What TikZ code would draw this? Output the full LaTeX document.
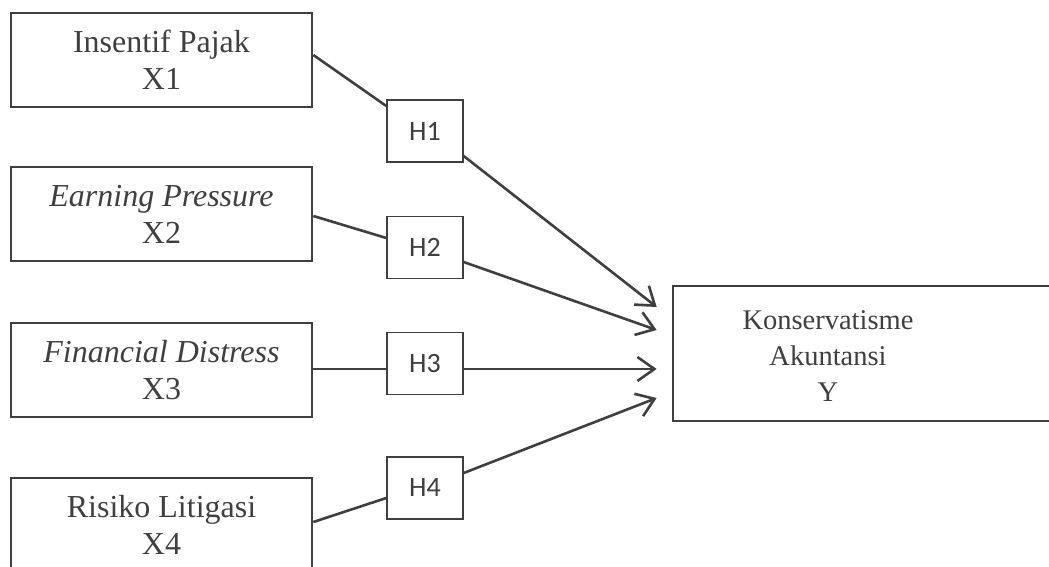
\documentclass[tikz,border=0pt]{standalone}
\usepackage{fontspec}
\setmainfont{Liberation Serif}
\newfontfamily\hfont{Carlito}
\usetikzlibrary{arrows.meta,calc}
\definecolor{ink}{HTML}{3F3F3F}
\begin{document}
\begin{tikzpicture}[x=1pt,y=-1pt,
  varbox/.style={draw=ink,line width=2.7pt,text=ink,minimum width=301pt,minimum height=94pt,
    align=center,inner sep=0pt,font=\fontsize{32}{37}\selectfont},
  hbox/.style={draw=ink,line width=1.4pt,text=ink,minimum width=76pt,minimum height=62pt,
    inner sep=0pt,font=\hfont\fontsize{28}{32}\selectfont},
  link/.style={draw=ink,line width=2.6pt},
  arr/.style={link,-{Straight Barb[length=17pt,width=24pt,line width=2.6pt]}}]
\useasboundingbox (0,0) rectangle (1049,567);
\clip (0,0) rectangle (1049,567);
\fill[white] (0,0) rectangle (1049,567);
\node[varbox] (X1) at (161.5,60) {Insentif Pajak\\X1};
\node[varbox] (X2) at (161.5,214) {\textit{Earning Pressure}\\X2};
\node[varbox] (X3) at (161.5,370) {\textit{Financial Distress}\\X3};
\node[varbox] (X4) at (161.5,525) {Risiko Litigasi\\X4};
\node[hbox] (H1) at (425,131) {H1};
\node[hbox] (H2) at (425,247.5) {H2};
\node[hbox] (H3) at (425,363.5) {H3};
\node[hbox] (H4) at (425,488) {H4};
\node[draw=ink,line width=2.7pt,minimum width=400pt,minimum height=135pt,inner sep=0pt] (Y) at (873,353.5) {};
\node[text=ink,align=center,inner sep=0pt,font=\fontsize{28.5}{36}\selectfont] (Yt) at (828,356) {Konservatisme\\Akuntansi\\Y};
\draw[link] ($(X1.east)+(0,-5)$) -- ($(H1.west)+(0,-25)$);
\draw[link] ($(X2.east)+(0,2)$) -- ($(H2.west)+(0,-9.5)$);
\draw[link] ($(X3.east)+(0,-1)$) -- ($(H3.west)+(0,5.5)$);
\draw[link] ($(X4.east)+(0,-3)$) -- ($(H4.west)+(0,10)$);
\draw[arr] ($(H1.east)+(0,25)$) -- ($(Y.west)+(-15,-46.5)$);
\draw[arr] ($(H2.east)+(0,14.5)$) -- ($(Y.west)+(-15,-23.5)$);
\draw[arr] ($(H3.east)+(0,5.5)$) -- ($(Y.west)+(-15,15.5)$);
\draw[arr] ($(H4.east)+(0,-15)$) -- ($(Y.west)+(-15,44.5)$);
\end{tikzpicture}
\end{document}
